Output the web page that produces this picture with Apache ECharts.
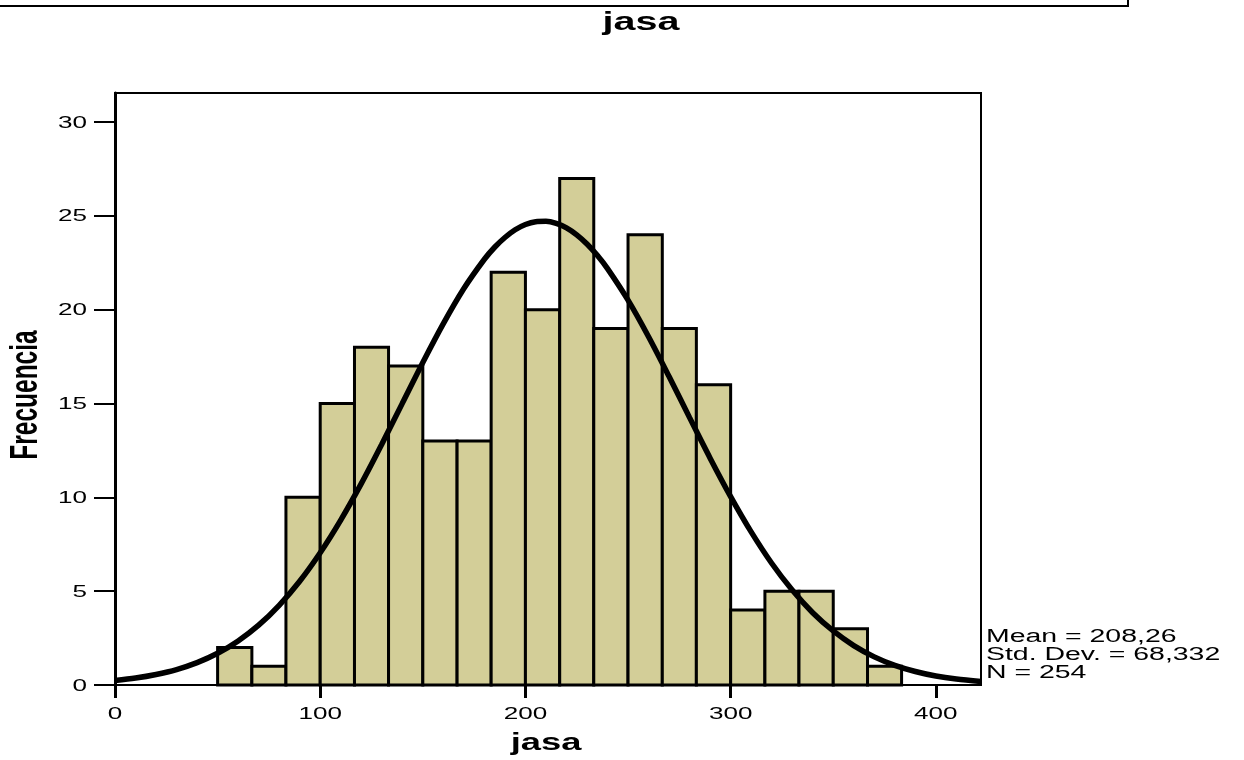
<!DOCTYPE html>
<html>
<head>
<meta charset="utf-8">
<script src="https://cdn.jsdelivr.net/npm/echarts@6/dist/echarts.min.js"></script>
<style>
html,body{margin:0;padding:0;background:#fff;}
#chart{width:1244px;height:760px;}
</style>
</head>
<body>
<div id="chart"></div>
<script>
// Histogram bin edges (jasa) and frequencies
const binEdges = [50, 66.7, 83.3, 100, 116.7, 133.3, 150, 166.7, 183.3, 200, 216.7, 233.3, 250, 266.7, 283.3, 300, 316.7, 333.3, 350, 366.7, 383.3];
const counts   = [2, 1, 10, 15, 18, 17, 13, 13, 22, 20, 27, 19, 24, 19, 16, 4, 5, 5, 3, 1];
// Fitted normal curve
const curveX = [0, 10, 20, 30, 40, 50, 60, 70, 80, 90, 100, 110, 120, 130, 140, 150, 160, 170, 180, 185, 190, 195, 200, 205, 210, 215, 220, 225, 230, 235, 240, 250, 260, 270, 280, 290, 300, 310, 320, 330, 340, 350, 360, 370, 380, 390, 400, 410, 422];
const curveY = [0.24, 0.37, 0.56, 0.82, 1.19, 1.69, 2.35, 3.19, 4.25, 5.53, 7.05, 8.79, 10.73, 12.83, 15.01, 17.19, 19.26, 21.13, 22.69, 23.33, 23.85, 24.26, 24.54, 24.69, 24.71, 24.60, 24.36, 23.99, 23.50, 22.90, 22.19, 20.51, 18.56, 16.44, 14.25, 12.09, 10.04, 8.16, 6.49, 5.06, 3.85, 2.88, 2.10, 1.50, 1.05, 0.72, 0.48, 0.32, 0.19];
const xTicks = [0, 100, 200, 300, 400];
const yTicks = [0, 5, 10, 15, 20, 25, 30];
const statLines = ['Mean = 208,26', 'Std. Dev. = 68,332', 'N = 254'];
const titleText = 'jasa';
const xName = 'jasa';
const yName = 'Frecuencia';

const barData = counts.map((c, i) => [binEdges[i], binEdges[i + 1], c]);
const curveData = curveX.map((x, i) => [x, curveY[i]]);

const SX = 1.58; // horizontal stretch of all text in the reference
const FF = "'Liberation Sans', Arial, sans-serif";
const chart = echarts.init(document.getElementById('chart'), null, {renderer: 'canvas'});
chart.setOption({
  animation: false,
  backgroundColor: '#ffffff',
  grid: {left: 115, right: 263, top: 93, bottom: 75, show: true, borderColor: '#000', borderWidth: 2, backgroundColor: 'transparent'},
  xAxis: {
    type: 'value', min: 0, max: 422,
    axisLine: {show: true, onZero: false, lineStyle: {color: '#000', width: 2}},
    axisTick: {show: true, inside: false, length: 13, customValues: xTicks, lineStyle: {color: '#000', width: 3}},
    axisLabel: {show: false},
    splitLine: {show: false}
  },
  yAxis: {
    type: 'value', min: 0, max: 31.55,
    axisLine: {show: true, lineStyle: {color: '#000', width: 3}},
    axisTick: {show: true, inside: false, length: 21, customValues: yTicks, lineStyle: {color: '#000', width: 2}},
    axisLabel: {show: false},
    splitLine: {show: false}
  },
  series: [
    {
      type: 'custom',
      data: barData,
      encode: {x: [0, 1], y: 2},
      renderItem: function (params, api) {
        const p0 = api.coord([api.value(0), 0]);
        const p1 = api.coord([api.value(1), api.value(2)]);
        return {
          type: 'rect',
          shape: {x: p0[0], y: p1[1], width: p1[0] - p0[0], height: p0[1] - p1[1]},
          style: {fill: '#d3ce98', stroke: '#000', lineWidth: 3}
        };
      },
      z: 2
    },
    {
      type: 'line',
      data: curveData,
      smooth: 0.3,
      symbol: 'none',
      lineStyle: {color: '#000', width: 5.5},
      z: 3
    }
  ]
});

function txt(text, x, y, font, align, extra) {
  return Object.assign({
    type: 'text', x: x, y: y, scaleX: SX, z: 10,
    style: {text: text, x: 0, y: 0, font: font, fill: '#000', align: align, verticalAlign: 'middle', textAlign: align, textVerticalAlign: 'middle'}
  }, extra || {});
}

const g = [
  {type: 'line', shape: {x1: 0, y1: 6, x2: 1128, y2: 6}, style: {stroke: '#000', lineWidth: 2}},
  {type: 'line', shape: {x1: 1128, y1: 0, x2: 1128, y2: 7}, style: {stroke: '#000', lineWidth: 2}},
  txt(titleText, 641, 23, 'bold 25px ' + FF, 'center')
];
yTicks.forEach(v => {
  const p = chart.convertToPixel({gridIndex: 0}, [0, v]);
  g.push(txt(String(v), 87, p[1] + 1, '16.5px ' + FF, 'right'));
});
xTicks.forEach(v => {
  const p = chart.convertToPixel({gridIndex: 0}, [v, 0]);
  g.push(txt(String(v), p[0], 714, '16.5px ' + FF, 'center'));
});
const xMid = (chart.convertToPixel({gridIndex: 0}, [0, 0])[0] + chart.convertToPixel({gridIndex: 0}, [422, 0])[0]) / 2;
g.push(txt(xName, xMid - 2, 744, 'bold 23px ' + FF, 'center'));
const yMid = (chart.convertToPixel({gridIndex: 0}, [0, 0])[1] + chart.convertToPixel({gridIndex: 0}, [0, 31.55])[1]) / 2;
g.push({
  type: 'text', x: 26, y: yMid + 6, rotation: Math.PI / 2, scaleY: SX, z: 10,
  style: {text: yName, x: 0, y: 0, font: 'bold 24.5px ' + FF, fill: '#000', align: 'center', verticalAlign: 'middle', textAlign: 'center', textVerticalAlign: 'middle'}
});
statLines.forEach((s, i) => {
  g.push(txt(s, 986, 637.5 + i * 18, '18px ' + FF, 'left'));
});
chart.setOption({graphic: g});
</script>
</body>
</html>
